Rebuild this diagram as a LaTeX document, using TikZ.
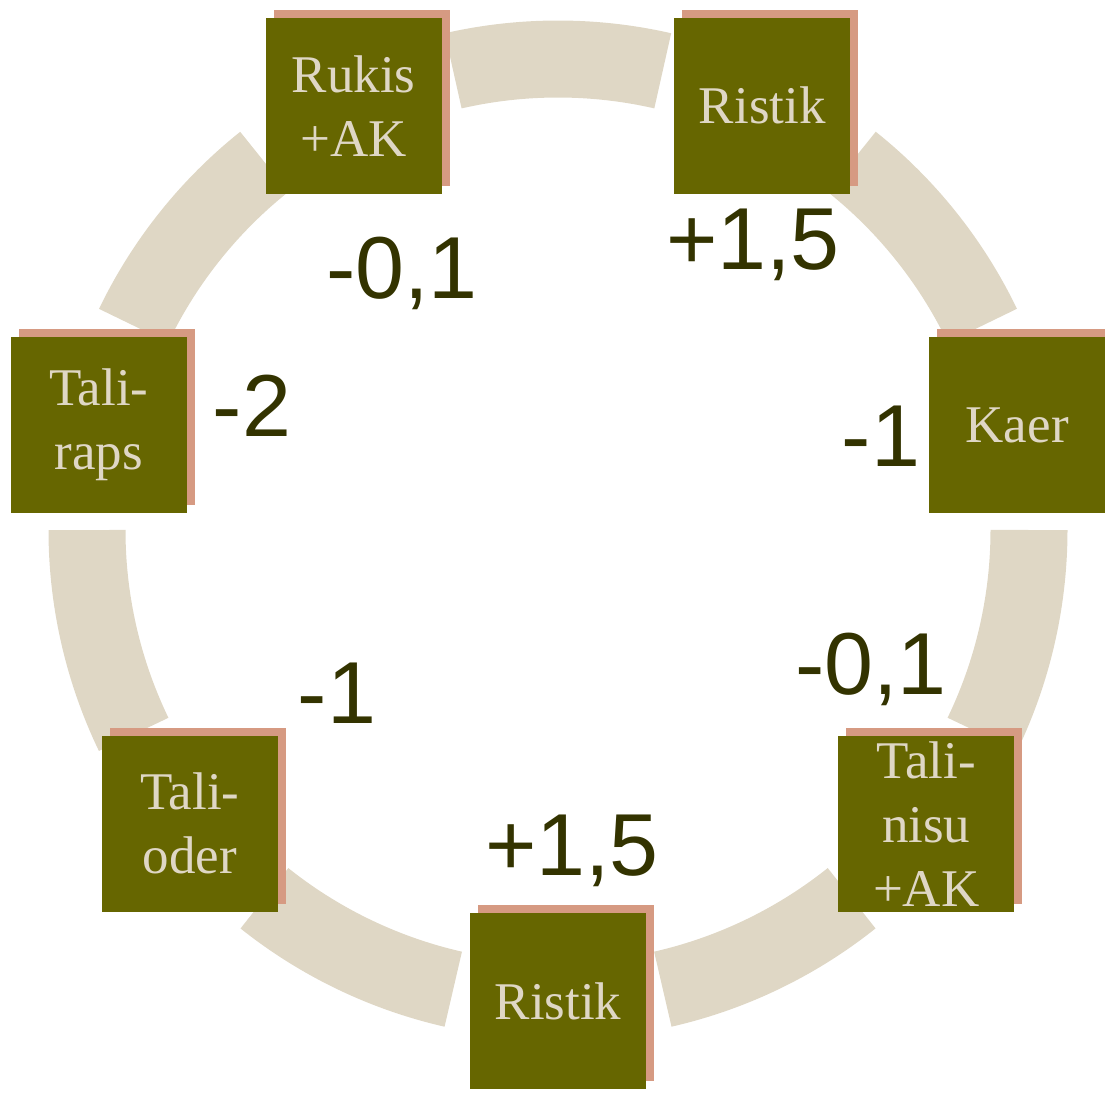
\documentclass[tikz,border=0pt]{standalone}
\usepackage{fontspec}
\setmainfont{Liberation Serif}
\newfontfamily\numfont{Liberation Sans}
\usetikzlibrary{positioning,shadows}
\definecolor{ringbeige}{HTML}{DFD7C5}
\definecolor{cropolive}{HTML}{666600}
\definecolor{shadowpink}{HTML}{D69A82}
\definecolor{numdark}{HTML}{333300}

\begin{document}
\begin{tikzpicture}[x=1pt, y=1pt, crop/.style={rectangle, fill=cropolive, text=ringbeige, minimum size=176pt, inner sep=0pt, align=center, font=\fontsize{53}{64}\selectfont, general shadow={fill=shadowpink, shadow xshift=8pt, shadow yshift=8pt}}, change/.style={text=numdark, anchor=base, inner sep=0pt, font=\numfont\fontsize{88}{100}\selectfont}, ringpart/.style={draw=ringbeige, line width=77pt}]
    \useasboundingbox (-558,-565) rectangle (547,530);

\foreach \k in {0,...,6}{
    \draw[ringpart] ({-77.14+\k*51.43}:471) arc ({-77.14+\k*51.43}:{-51.43+\k*51.43}:471);}

    \node[crop](rist1) at (-90:471){Ristik};
    \node[crop](nisu) at (-38.57:471){Tali-\\nisu\\+AK};
    \node[crop](kaer) at (12.86:471){Kaer};
    \node[crop](rist2) at (64.29:471){Ristik};
    \node[crop](rukis) at (115.71:471){Rukis\\+AK};
    \node[crop](raps) at (167.14:471){Tali-\\raps};
    \node[crop](oder) at (218.57:471){Tali-\\oder};

    \node[change](d1) at (14,-345){+1,5};
    \node[change](d2) at (313,-164){-0,1};
    \node[change](d3) at (323,64){-1};
    \node[change](d4) at (195,260){+1,5};
    \node[change](d5) at (-156,231){-0,1};
    \node[change](d6) at (-306,94){-2};
    \node[change](d7) at (-221,-193){-1};
\end{tikzpicture}
\end{document}
